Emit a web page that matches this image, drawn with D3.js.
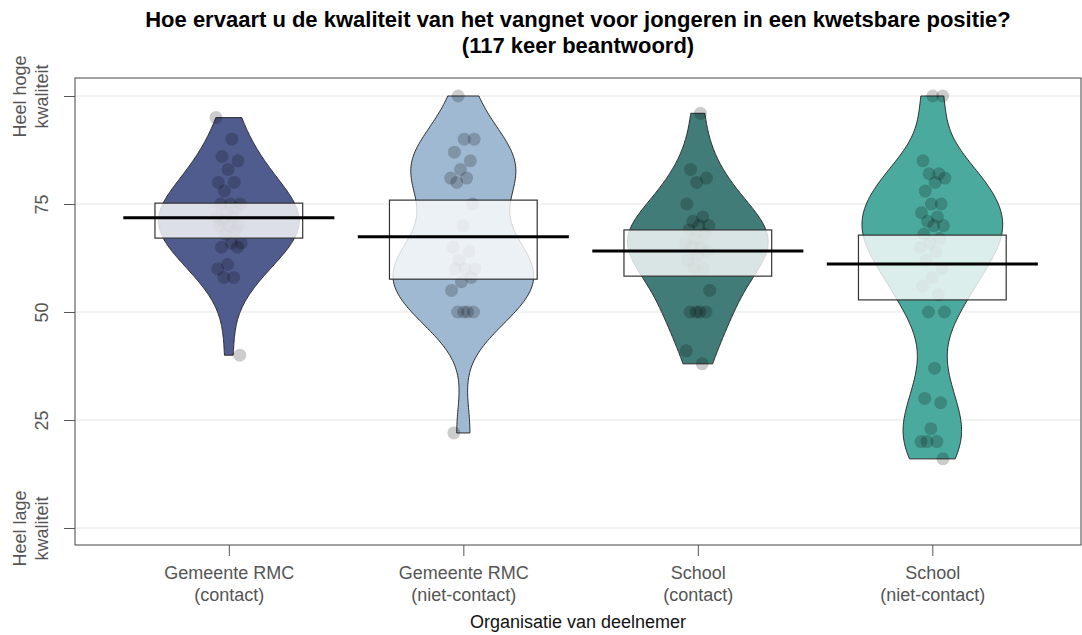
<!DOCTYPE html>
<html>
<head>
<meta charset="utf-8">
<script src="https://cdn.jsdelivr.net/npm/d3@7"></script>
<style>
  body { margin: 0; background: #fff; }
  svg { display: block; font-family: "Liberation Sans", Arial, sans-serif; }
</style>
</head>
<body>
<svg id="chart"></svg>
<script>
// categories (two-line labels) and bean colours
const categories = ['Gemeente RMC\n(contact)', 'Gemeente RMC\n(niet-contact)', 'School\n(contact)', 'School\n(niet-contact)'];
const beanColors = ['#505c8e', '#a0b9d2', '#417c78', '#4baa9e'];

// individual answers per group (read off the points; hidden ones under the boxes estimated)
const rmcContact = [95, 90, 86, 85, 83, 80, 80, 78, 75, 75, 75, 74, 73, 72, 72, 71, 70, 70, 70, 69, 68, 66, 66, 65, 65, 61, 60, 58, 58, 40];
const rmcNietContact = [100, 90, 90, 87, 85, 83, 81, 81, 80, 75, 70, 65, 64, 62, 60, 60, 60, 58, 57, 55, 50, 50, 50, 50, 22];
const schoolContact = [96, 83, 81, 80, 75, 72, 71, 70, 70, 69, 68, 67, 66, 65, 65, 64, 63, 62, 60, 60, 55, 50, 50, 50, 50, 41, 38];
const schoolNietContact = [100, 100, 85, 82, 82, 81, 80, 78, 75, 75, 73, 72, 71, 70, 70, 68, 67, 66, 65, 64, 62, 60, 58, 56, 54, 50, 50, 37, 30, 29, 23, 20, 20, 20, 16];
const groupData = [rmcContact, rmcNietContact, schoolContact, schoolNietContact];

// mean line and inference band per group
const means = [71.8, 67.4, 64.1, 61.1];
const infLow = [67.1, 57.6, 58.3, 52.8];
const infHigh = [75.2, 75.9, 69.0, 67.8];

// y axis ticks
const yTicks = [0, 25, 50, 75, 100];
const yTickLabels = ['Heel lage\nkwaliteit', '25', '50', '75', 'Heel hoge\nkwaliteit'];

const W = 1082, H = 635;
const panel = { left: 75, right: 1081, top: 78, bottom: 545 };

const svg = d3.select('#chart').attr('width', W).attr('height', H);

const x = d3.scaleLinear().domain([0.344, 4.634]).range([panel.left, panel.right]);
const y = d3.scaleLinear().domain([-3.94, 104.17]).range([panel.bottom, panel.top]);

// gridlines
svg.append('g').selectAll('line')
  .data(yTicks)
  .join('line')
  .attr('x1', panel.left).attr('x2', panel.right)
  .attr('y1', d => y(d)).attr('y2', d => y(d))
  .attr('stroke', '#e6e6e6').attr('stroke-width', 1);

// gaussian kernel density, cut at the data range (fixed smoothing bandwidth)
const bandwidth = 7.5;
function kde(v) {
  const lo = d3.min(v), hi = d3.max(v);
  const n = 200;
  return d3.range(n + 1).map(i => {
    const t = lo + (hi - lo) * i / n;
    const dens = d3.mean(v, d => Math.exp(-0.5 * ((t - d) / bandwidth) ** 2));
    return { v: t, dens };
  });
}

const beanHalf = 0.3, boxHalf = 0.315, lineHalf = 0.45, jitterHalf = 0.055;

const beans = svg.append('g');
groupData.forEach((vals, i) => {
  const pos = i + 1;
  const dens = kde(vals);
  const w = d3.scaleLinear().domain([0, d3.max(dens, d => d.dens)]).range([0, x(pos + beanHalf) - x(pos)]);
  const area = d3.area()
    .x0(d => x(pos) - w(d.dens))
    .x1(d => x(pos) + w(d.dens))
    .y(d => y(d.v));
  beans.append('path')
    .datum(dens)
    .attr('d', area)
    .attr('fill', beanColors[i])
    .attr('stroke', '#2b2b2b')
    .attr('stroke-width', 1);
});

// points with a fixed (non-random) horizontal spread
const pts = svg.append('g');
groupData.forEach((vals, i) => {
  const pos = i + 1;
  pts.selectAll(null)
    .data(vals)
    .join('circle')
    .attr('cx', (d, j) => x(pos + ((j * 0.618034 + 0.3 * i) % 1 - 0.5) * 2 * jitterHalf))
    .attr('cy', d => y(d))
    .attr('r', 6.5)
    .attr('fill', '#000')
    .attr('fill-opacity', 0.2);
});

// inference boxes
svg.append('g').selectAll('rect')
  .data(means.map((m, i) => i))
  .join('rect')
  .attr('x', i => x(i + 1 - boxHalf))
  .attr('width', i => x(i + 1 + boxHalf) - x(i + 1 - boxHalf))
  .attr('y', i => y(infHigh[i]))
  .attr('height', i => y(infLow[i]) - y(infHigh[i]))
  .attr('fill', '#fff').attr('fill-opacity', 0.8)
  .attr('stroke', '#333').attr('stroke-width', 1.2);

// mean lines
svg.append('g').selectAll('line')
  .data(means)
  .join('line')
  .attr('x1', (d, i) => x(i + 1 - lineHalf))
  .attr('x2', (d, i) => x(i + 1 + lineHalf))
  .attr('y1', d => y(d)).attr('y2', d => y(d))
  .attr('stroke', '#000').attr('stroke-width', 3);

// panel frame
svg.append('rect')
  .attr('x', panel.left).attr('y', panel.top)
  .attr('width', panel.right - panel.left).attr('height', panel.bottom - panel.top)
  .attr('fill', 'none').attr('stroke', '#444').attr('stroke-width', 1);

// y axis
const yAxis = svg.append('g').attr('transform', `translate(${panel.left},0)`)
  .call(d3.axisLeft(y).tickValues(yTicks).tickSize(11).tickFormat(''));
yAxis.select('.domain').remove();
yAxis.selectAll('.tick line').attr('stroke', '#555');
yAxis.selectAll('.tick').each(function (d, i) {
  const lines = yTickLabels[i].split('\n');
  const t = d3.select(this).append('text')
    .attr('transform', `translate(-27,0) rotate(-90)`)
    .attr('text-anchor', 'middle')
    .attr('fill', '#555')
    .style('font-size', '18px');
  lines.forEach((s, k) => {
    t.append('tspan').attr('x', 0).attr('y', (k - lines.length + 1) * 22).text(s);
  });
});

// x axis
const xAxis = svg.append('g').attr('transform', `translate(0,${panel.bottom})`)
  .call(d3.axisBottom(x).tickValues([1, 2, 3, 4]).tickSize(11).tickFormat(''));
xAxis.select('.domain').remove();
xAxis.selectAll('.tick line').attr('stroke', '#555');
xAxis.selectAll('.tick').each(function (d, i) {
  const lines = categories[i].split('\n');
  const t = d3.select(this).append('text')
    .attr('text-anchor', 'middle')
    .attr('fill', '#555')
    .style('font-size', '18px');
  lines.forEach((s, k) => {
    t.append('tspan').attr('x', 0).attr('y', 34 + k * 22).text(s);
  });
});

svg.append('text')
  .attr('x', (panel.left + panel.right) / 2).attr('y', 628)
  .attr('text-anchor', 'middle').attr('fill', '#111')
  .style('font-size', '18px')
  .text('Organisatie van deelnemer');

// title
const title = svg.append('text')
  .attr('text-anchor', 'middle').attr('fill', '#000')
  .style('font-size', '22px').style('font-weight', 'bold');
title.append('tspan').attr('x', (panel.left + panel.right) / 2).attr('y', 27)
  .text('Hoe ervaart u de kwaliteit van het vangnet voor jongeren in een kwetsbare positie?');
title.append('tspan').attr('x', (panel.left + panel.right) / 2).attr('y', 53)
  .text('(117 keer beantwoord)');
</script>
</body>
</html>
